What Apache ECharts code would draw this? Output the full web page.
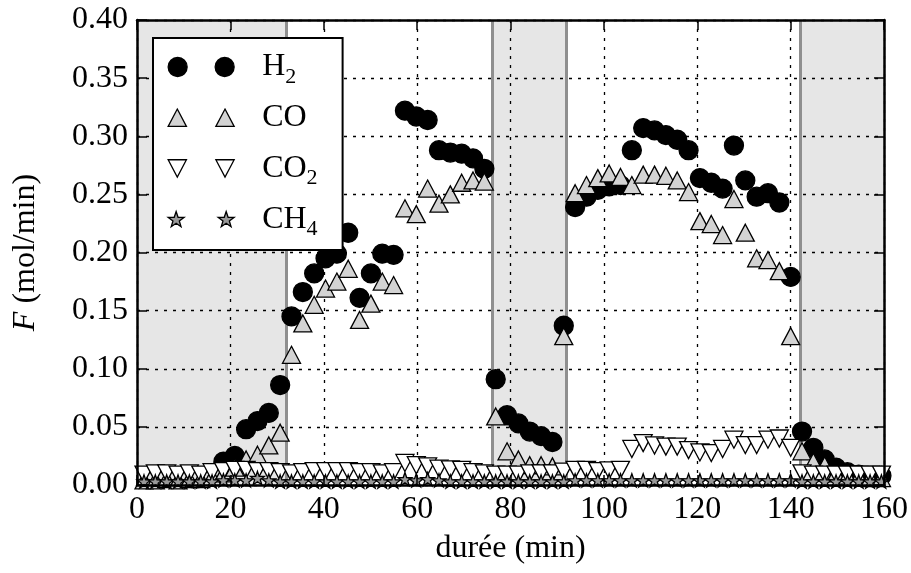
<!DOCTYPE html>
<html><head><meta charset="utf-8">
<script src="https://cdn.jsdelivr.net/npm/echarts@6/dist/echarts.min.js"></script>
<style>html,body{margin:0;padding:0;background:#fff}#c{width:911px;height:573px}</style>
</head><body><div id="c"></div>
<script>
const time = [1.5, 3.93, 6.36, 8.79, 11.22, 13.65, 16.08, 18.51, 20.94, 23.37,
  25.8, 28.23, 30.66, 33.09, 35.52, 37.95, 40.38, 42.81, 45.24, 47.67,
  50.1, 52.53, 54.96, 57.39, 59.82, 62.25, 64.68, 67.11, 69.54, 71.97,
  74.4, 76.83, 79.26, 81.69, 84.12, 86.55, 88.98, 91.41, 93.84, 96.27,
  98.7, 101.13, 103.56, 105.99, 108.42, 110.85, 113.28, 115.71, 118.14, 120.57,
  123.0, 125.43, 127.86, 130.29, 132.72, 135.15, 137.58, 140.01, 142.44, 144.87,
  147.3, 149.73, 152.16, 154.59, 157.02, 159.45];
const h2 = [null, null, null, null, null, null, null, 0.020, 0.025, 0.048,
  0.055, 0.062, 0.086, 0.145, 0.166, 0.182, 0.195, 0.199, 0.217, 0.161,
  0.182, 0.199, 0.198, 0.322, 0.317, 0.314, 0.288, 0.286, 0.285, 0.281,
  0.272, 0.091, 0.060, 0.053, 0.046, 0.042, 0.037, 0.137, 0.239, 0.248,
  0.254, 0.257, 0.258, 0.288, 0.307, 0.305, 0.301, 0.297, 0.288, 0.264,
  0.260, 0.255, 0.292, 0.262, 0.248, 0.251, 0.243, 0.179, 0.046, 0.032,
  0.022, 0.015, 0.011, 0.009, 0.008, 0.008];
const co = [0.004, 0.004, 0.005, 0.004, 0.005, 0.005, 0.007, 0.010, 0.015, 0.022,
  0.026, 0.034, 0.045, 0.112, 0.139, 0.155, 0.169, 0.175, 0.186, 0.142,
  0.156, 0.175, 0.172, 0.238, 0.233, 0.255, 0.242, 0.250, 0.260, 0.262,
  0.261, 0.059, 0.029, 0.022, 0.017, 0.017, 0.016, 0.128, 0.251, 0.258,
  0.264, 0.268, 0.265, 0.258, 0.267, 0.267, 0.266, 0.262, 0.252, 0.227,
  0.2245, 0.215, 0.246, 0.217, 0.195, 0.1935, 0.184, 0.128, 0.029, 0.020,
  0.017, 0.010, 0.008, 0.007, 0.006, 0.006];
const co2 = [0.009, 0.010, 0.010, 0.009, 0.010, 0.009, 0.011, 0.012, 0.013, 0.013,
  0.012, 0.012, 0.011, 0.010, 0.011, 0.012, 0.012, 0.012, 0.012, 0.011,
  0.011, 0.010, 0.011, 0.019, 0.017, 0.016, 0.014, 0.0135, 0.013, 0.011,
  0.010, 0.009, 0.009, 0.009, 0.010, 0.010, 0.010, 0.0115, 0.013, 0.013,
  0.012, 0.0125, 0.013, 0.031, 0.036, 0.034, 0.033, 0.033, 0.030, 0.028,
  0.0275, 0.031, 0.039, 0.0344, 0.0344, 0.039, 0.040, 0.032, 0.010, 0.009,
  0.009, 0.009, 0.009, 0.009, 0.009, 0.009];
const ch4 = [0.003, 0.003, 0.003, 0.003, 0.003, 0.003, 0.003, 0.004, 0.004, 0.004,
  0.006, 0.004, 0.003, 0.003, 0.003, 0.003, 0.003, 0.003, 0.003, 0.003,
  0.003, 0.003, 0.003, 0.005, 0.004, 0.005, 0.004, 0.003, 0.003, 0.003,
  0.003, 0.003, 0.003, 0.003, 0.003, 0.003, 0.003, 0.003, 0.004, 0.004,
  0.004, 0.004, 0.004, 0.004, 0.004, 0.004, 0.004, 0.004, 0.004, 0.004,
  0.004, 0.004, 0.004, 0.004, 0.004, 0.004, 0.004, 0.004, 0.003, 0.003,
  0.003, 0.003, 0.003, 0.003, 0.003, 0.003];
const seriesNames = ['H2', 'CO', 'CO2', 'CH4'];
const shadedZones = [[0, 32], [76, 92], [142, 160]];
const zoneEdges = [32, 76, 92, 142];
const xRange = [0, 160, 20];
const yRange = [0, 0.40, 0.05];

const FONT = '"Liberation Serif", "Times New Roman", serif';
const STAR = 'path://M0,-10L2.35,-3.24L9.51,-3.09L3.8,1.24L5.88,8.09L0,4L-5.88,8.09L-3.8,1.24L-9.51,-3.09L-2.35,-3.24Z';
const ICON_CIRCLES = 'path://M0,9.5a9.5,9.5 0 1,0 19,0a9.5,9.5 0 1,0 -19,0zM47,9.5a9.5,9.5 0 1,0 19,0a9.5,9.5 0 1,0 -19,0z';
const ICON_UP = 'path://M9.5,1L18.5,18L0.5,18ZM56.5,1L65.5,18L47.5,18Z';
const ICON_DOWN = 'path://M0.5,1L18.5,1L9.5,18ZM47.5,1L65.5,1L56.5,18Z';
const ICON_STAR = 'path://M9.5,2L11.3,7.4L17,7.5L12.5,10.9L14.1,16.3L9.5,13.1L4.9,16.3L6.5,10.9L2,7.5L7.7,7.4ZM56.5,2L58.3,7.4L64,7.5L59.5,10.9L61.1,16.3L56.5,13.1L51.9,16.3L53.5,10.9L49,7.5L54.7,7.4Z';

const pts = (vals) => time.map((t, i) => [t, vals[i]]).filter(p => p[1] !== null);
const styles = {
  H2: {symbol: 'circle', size: 19, fill: '#000', icon: ICON_CIRCLES},
  CO: {symbol: 'triangle', size: [18, 17], fill: '#d3d3d3', icon: ICON_UP},
  CO2: {symbol: 'triangle', size: [18, 17], fill: '#ffffff', rotate: 180, icon: ICON_DOWN},
  CH4: {symbol: STAR, size: [14, 13.3], fill: '#999999', icon: ICON_STAR}
};
const values = {H2: h2, CO: co, CO2: co2, CH4: ch4};

const labelRich = {
  g: {width: 23, fontSize: 32, lineHeight: 42},
  m: {fontFamily: FONT, fontSize: 32, lineHeight: 42, color: '#000'},
  s: {fontFamily: FONT, fontSize: 22, lineHeight: 42, verticalAlign: 'bottom', color: '#000'}
};
function richName(n) {
  const m = n.match(/^([A-Z]+)(\d?)$/);
  return '{g|}{m|' + m[1] + '}' + (m[2] ? '{s|' + m[2] + '}' : '');
}

const tickFont = {fontFamily: FONT, fontSize: 32, color: '#000'};
const frameLine = {show: true, onZero: false, lineStyle: {color: '#000', width: 2.5}};
const frameTick = {show: true, inside: true, length: 10, lineStyle: {color: '#000', width: 1.5}};
const gridSplit = {show: true, lineStyle: {color: '#000', width: 1.3, type: [3, 6]}};

const xBase = {type: 'value', min: xRange[0], max: xRange[1], interval: xRange[2]};
const yBase = {type: 'value', min: yRange[0], max: yRange[1], interval: yRange[2]};

const series = seriesNames.map((n) => ({
  name: n, type: 'scatter', xAxisIndex: 0, yAxisIndex: 0, z: 3,
  data: pts(values[n]),
  symbol: styles[n].symbol, symbolSize: styles[n].size, symbolRotate: styles[n].rotate || 0,
  itemStyle: {color: styles[n].fill, borderColor: '#000', borderWidth: 1.3, opacity: 1},
  emphasis: {disabled: true}
}));
series.unshift({
  name: 'zones', type: 'scatter', xAxisIndex: 0, yAxisIndex: 0, z: 0, data: [], silent: true,
  markArea: {silent: true, z: 0, itemStyle: {color: '#e6e6e6', borderWidth: 0},
    data: shadedZones.map(z => [{xAxis: z[0]}, {xAxis: z[1]}])},
  markLine: {silent: true, z: 1.5, symbol: ['none', 'none'], label: {show: false},
    lineStyle: {color: '#8f8f8f', width: 3, type: 'solid'},
    data: zoneEdges.map(x => ({xAxis: x}))}
});

const option = {
  animation: false,
  backgroundColor: '#fff',
  textStyle: {fontFamily: FONT},
  grid: {left: 137, right: 26, top: 20, bottom: 88},
  xAxis: [
    Object.assign({}, xBase, {position: 'bottom', z: 1, axisLine: {show: false}, axisTick: {show: false}, axisLabel: {show: false}, splitLine: gridSplit}),
    Object.assign({}, xBase, {position: 'bottom', z: 10, axisLine: frameLine, axisTick: frameTick, splitLine: {show: false},
      axisLabel: Object.assign({margin: 9}, tickFont),
      name: 'durée (min)', nameLocation: 'middle', nameGap: 48, nameTextStyle: tickFont}),
    Object.assign({}, xBase, {position: 'top', z: 10, axisLine: frameLine, axisTick: frameTick, axisLabel: {show: false}, splitLine: {show: false}})
  ],
  yAxis: [
    Object.assign({}, yBase, {position: 'left', z: 1, axisLine: {show: false}, axisTick: {show: false}, axisLabel: {show: false}, splitLine: gridSplit}),
    Object.assign({}, yBase, {position: 'left', z: 10, axisLine: frameLine, axisTick: frameTick, splitLine: {show: false},
      axisLabel: Object.assign({margin: 9, formatter: v => v.toFixed(2)}, tickFont),
      name: '{i|F} (mol/min)', nameLocation: 'middle', nameGap: 95,
      nameTextStyle: Object.assign({rich: {i: {fontFamily: FONT, fontSize: 32, fontStyle: 'italic', color: '#000'}}}, tickFont)}),
    Object.assign({}, yBase, {position: 'right', z: 10, axisLine: frameLine, axisTick: frameTick, axisLabel: {show: false}, splitLine: {show: false}})
  ],
  legend: {
    orient: 'vertical', left: 153, top: 38, padding: [8, 25, 10, 14.5], itemGap: 8.7,
    itemWidth: 66, itemHeight: 19, backgroundColor: '#fff', borderColor: '#000', borderWidth: 2, borderRadius: 0,
    selectedMode: false, z: 6,
    data: seriesNames.map(n => ({name: n, icon: styles[n].icon,
      itemStyle: {color: styles[n].fill, borderColor: '#000', borderWidth: 1.3}})),
    formatter: richName,
    textStyle: {fontFamily: FONT, fontSize: 32, color: '#000', lineHeight: 42, rich: labelRich}
  },
  series: series
};
const chart = echarts.init(document.getElementById('c'), null, {renderer: 'canvas'});
chart.setOption(option);
</script></body></html>
